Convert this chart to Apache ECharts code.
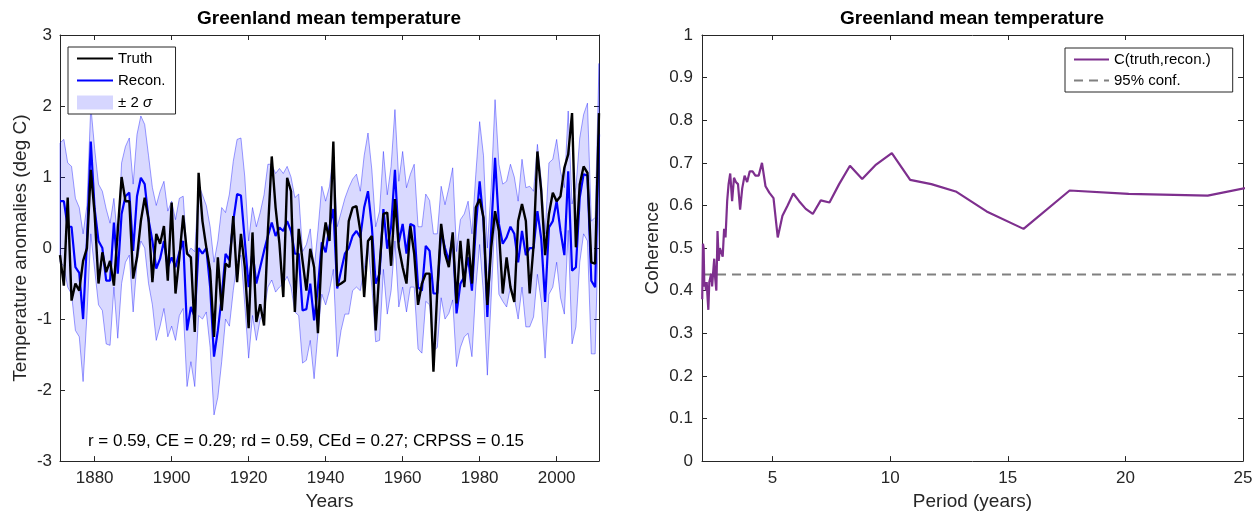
<!DOCTYPE html>
<html>
<head>
<meta charset="utf-8">
<title>Greenland mean temperature</title>
<script src="https://cdn.jsdelivr.net/npm/echarts@6/dist/echarts.min.js"></script>
<style>
  html, body { margin: 0; padding: 0; background: #fff; }
  #chart { width: 1260px; height: 516px; }
</style>
</head>
<body>
<div id="chart"></div>
<script>
// annual values, one per year starting at firstYear (1871 .. 2011)
var firstYear = 1871;

var truth = [
  -0.10, -0.53, 0.71, -0.74, -0.50, -0.60, -0.18, 0.00, 1.10, 0.48,
  -0.50, -0.06, -0.34, -0.18, -0.53, 0.24, 1.00, 0.66, 0.66, -0.43,
  -0.13, 0.38, 0.71, 0.40, -0.48, 0.20, 0.06, 0.31, -0.46, 0.64,
  -0.64, -0.13, 0.46, -0.08, -0.13, -1.18, 1.06, 0.38, 0.01, -0.32,
  -1.25, -0.13, -0.88, -0.22, -0.27, 0.45, -0.48, 0.20, -0.27, -1.13,
  0.22, -1.04, -0.79, -1.09, 0.24, 1.29, 0.57, 0.06, -0.69, 0.99,
  0.80, -0.90, 0.27, -0.18, -0.60, -0.01, -0.27, -1.20, -0.04, 0.36,
  0.10, 1.50, -0.53, -0.50, -0.46, 0.38, 0.57, 0.59, 0.24, -0.69,
  0.10, 0.17, -1.16, -0.27, 0.48, 0.50, -0.25, 0.69, 0.01, -0.27,
  -0.50, 0.31, -0.08, -0.80, -0.50, -0.36, -0.36, -1.74, -0.60, 0.34,
  -0.08, -0.27, 0.22, -0.78, 0.10, -0.55, 0.13, -0.50, 0.57, 0.69,
  0.43, -0.80, 0.01, 0.52, 0.24, -0.64, -0.13, -0.55, -0.76, 0.38,
  0.62, 0.38, -0.64, 0.03, 1.36, 0.80, -0.10, 0.48, 0.78, 0.66,
  0.73, 1.13, 1.32, 1.90, 0.01, 0.90, 1.15, 1.06, -0.20, -0.22,
  1.90
];

var recon = [
  0.66, 0.66, 0.30, 0.30, -0.27, -0.35, -1.00, 0.10, 1.50, 0.55,
  0.10, 0.00, -0.46, -0.46, 0.36, -0.36, 0.48, 0.73, 0.78, -0.04,
  0.73, 0.99, 0.90, 0.40, 0.10, -0.29, -0.15, 0.10, -0.27, -0.13,
  -0.27, -0.06, 0.10, -1.16, -0.83, -0.97, 0.00, -0.08, 0.00, -0.55,
  -1.53, -1.16, -0.69, -0.08, -0.17, 0.38, 0.76, 0.74, 0.10, -0.55,
  -0.05, -0.50, -0.27, -0.04, 0.17, 0.36, 0.17, 0.29, 0.24, 0.38,
  0.24, -0.08, -0.08, -0.88, -0.86, -0.50, -1.02, -0.55, 0.08, -0.06,
  0.30, 0.55, -0.57, -0.32, -0.08, 0.00, 0.17, 0.24, 0.15, 0.57,
  0.80, 0.30, -0.50, -0.36, 0.55, -0.01, 0.30, 1.10, 0.08, 0.34,
  -0.08, 0.34, 0.31, -0.55, -0.60, 0.03, -0.04, -0.64, -0.64, 0.24,
  0.00, -0.18, 0.17, -0.92, -0.50, -0.41, -0.13, -0.60, 0.29, 0.94,
  0.38, -0.97, 0.24, 1.27, 0.34, 0.06, 0.15, 0.30, 0.20, -0.20,
  0.24, -0.10, 0.00, 0.00, 0.52, 0.13, -0.76, 0.29, 0.38, 0.66,
  0.24, -0.10, 1.08, -0.32, -0.27, 0.71, 1.04, 1.02, -0.46, -0.55,
  1.60
];

// edges of the +-2 sigma envelope
var bandUpper = [
  1.48, 1.53, 1.20, 1.15, 0.70, 0.57, 0.20, 0.60, 2.00, 1.40,
  0.90, 0.80, 0.55, 0.35, 0.70, 0.10, 1.20, 1.43, 1.55, 0.90,
  1.60, 1.86, 1.74, 1.30, 0.85, 0.60, 0.80, 0.94, 0.52, 0.66,
  0.40, 0.70, 0.73, -0.10, 0.00, -0.05, 0.90, 0.75, 0.60, 0.30,
  -0.20, 0.10, 0.57, 0.50, 0.76, 1.22, 1.53, 1.55, 1.00, 0.10,
  0.57, 0.30, 0.50, 0.75, 1.18, 1.18, 1.05, 1.12, 1.05, 1.15,
  1.00, 0.71, 0.76, -0.05, 0.05, 0.27, -0.30, 0.25, 0.87, 0.66,
  0.87, 1.35, 0.30, 0.50, 0.70, 0.85, 0.97, 1.04, 0.80, 1.30,
  1.62, 1.10, 0.30, 0.52, 1.36, 0.75, 1.15, 1.95, 0.94, 1.36,
  0.85, 1.04, 1.18, 0.30, 0.30, 0.76, 0.67, 0.20, 0.20, 0.87,
  0.61, 0.85, 1.13, -0.05, 0.40, 0.48, 0.66, 0.20, 1.04, 1.78,
  1.30, 0.00, 0.85, 2.09, 1.18, 0.90, 0.94, 1.18, 1.00, 0.66,
  1.25, 0.85, 0.87, 0.80, 1.46, 0.95, 0.20, 1.20, 1.25, 1.53,
  1.08, 0.85, 1.93, 0.62, 0.85, 1.55, 1.88, 2.04, 0.38, 0.43,
  2.60
];

var bandLower = [
  -0.20, -0.25, -0.55, -0.65, -1.16, -1.25, -1.88, -0.95, 0.20, -0.30,
  -0.80, -0.88, -1.35, -1.37, -0.55, -1.27, -0.50, -0.20, -0.10, -0.90,
  -0.20, 0.10, 0.00, -0.50, -0.80, -1.30, -1.10, -0.85, -1.25, -1.10,
  -1.30, -0.95, -0.85, -1.95, -1.60, -1.95, -0.95, -1.00, -0.90, -1.40,
  -2.35, -2.10, -1.60, -1.00, -1.10, -0.60, -0.20, -0.10, -0.80, -1.55,
  -0.95, -1.30, -1.00, -0.90, -0.55, -0.45, -0.62, -0.55, -0.50, -0.40,
  -0.55, -0.90, -0.95, -1.62, -1.58, -1.30, -1.84, -1.20, -0.65, -0.80,
  -0.60, -0.30, -1.53, -1.16, -0.93, -0.93, -0.60, -0.55, -0.60, -0.30,
  0.05, -0.55, -1.32, -1.30, -0.30, -0.93, -0.60, 0.10, -0.83, -0.55,
  -0.90, -0.55, -0.55, -1.42, -1.48, -0.75, -0.80, -1.45, -1.40, -0.70,
  -1.00, -0.92, -0.73, -1.67, -1.40, -1.25, -1.20, -1.53, -0.55, 0.05,
  -0.65, -1.79, -0.70, 0.45, -0.65, -0.75, -0.83, -0.55, -0.70, -1.00,
  -0.55, -1.11, -1.11, -0.97, -0.37, -0.75, -1.55, -0.65, -0.55, -0.20,
  -0.70, -0.93, 0.25, -1.35, -1.11, -0.20, 0.20, 0.10, -1.49, -1.49,
  0.60
];

// coherence between truth and reconstruction, by period (years)
var periods = [
  2.01, 2.04, 2.07, 2.10, 2.14, 2.17, 2.20, 2.24, 2.27, 2.31,
  2.35, 2.39, 2.43, 2.47, 2.52, 2.56, 2.61, 2.66, 2.71, 2.76,
  2.82, 2.88, 2.94, 3.00, 3.07, 3.13, 3.20, 3.28, 3.36, 3.44,
  3.53, 3.62, 3.71, 3.81, 3.92, 4.03, 4.15, 4.27, 4.41, 4.55,
  4.70, 4.86, 5.04, 5.22, 5.42, 5.64, 5.88, 6.13, 6.41, 6.71,
  7.05, 7.42, 7.83, 8.29, 8.81, 9.40, 10.07, 10.85, 11.75, 12.82,
  14.10, 15.67, 17.63, 20.14, 23.50, 28.20
];
var coherence = [
  0.38, 0.51, 0.50, 0.41, 0.42, 0.40, 0.42, 0.38, 0.355, 0.42,
  0.43, 0.44, 0.41, 0.44, 0.475, 0.43, 0.40, 0.54, 0.47, 0.50,
  0.49, 0.48, 0.545, 0.525, 0.61, 0.65, 0.675, 0.61, 0.665, 0.655,
  0.65, 0.59, 0.64, 0.67, 0.655, 0.68, 0.68, 0.67, 0.67, 0.70,
  0.645, 0.63, 0.617, 0.525, 0.576, 0.60, 0.628, 0.61, 0.592, 0.58,
  0.612, 0.607, 0.65, 0.693, 0.662, 0.696, 0.723, 0.66, 0.65, 0.632,
  0.586, 0.545, 0.635, 0.627, 0.623, 0.676
];
var confLevel = 0.438;

var yearTicks = [1880, 1900, 1920, 1940, 1960, 1980, 2000];
var periodTicks = [5, 10, 15, 20, 25];

var font = 'Liberation Sans, Arial, Helvetica, sans-serif';
var ink = '#262626';

function pairs(values) {
  return values.map(function (v, i) { return [firstYear + i, v]; });
}

function frameAxis(grid, pos, min, max, extra) {
  var ax = {
    gridIndex: grid,
    type: 'value',
    position: pos,
    min: min,
    max: max,
    axisLine: { show: true, onZero: false, lineStyle: { color: ink, width: 1 } },
    axisTick: { show: true, inside: true, length: 5, lineStyle: { color: ink } },
    axisLabel: { show: false },
    splitLine: { show: false }
  };
  for (var k in extra) ax[k] = extra[k];
  return ax;
}

var nameStyle = { color: ink, fontSize: 19, fontFamily: font };
var plain = function (v) { return String(v); };

var chart = echarts.init(document.getElementById('chart'), null, { renderer: 'canvas' });

chart.setOption({
  animation: false,
  backgroundColor: '#fff',
  textStyle: { fontFamily: font },
  title: [
    { text: 'Greenland mean temperature', left: 329, top: 9, textAlign: 'center', padding: 0,
      textStyle: { fontSize: 19, fontWeight: 'bold', color: '#000', fontFamily: font } },
    { text: 'Greenland mean temperature', left: 972, top: 9, textAlign: 'center', padding: 0,
      textStyle: { fontSize: 19, fontWeight: 'bold', color: '#000', fontFamily: font } }
  ],
  grid: [
    { left: 60, top: 35, width: 539, height: 428 },
    { left: 702, top: 35, width: 541, height: 428 }
  ],
  legend: [
    {
      left: 68, top: 47, orient: 'vertical',
      padding: [4, 10, 4, 8], itemGap: 7, itemWidth: 36, itemHeight: 14,
      borderColor: ink, borderWidth: 1, backgroundColor: '#fff',
      itemStyle: { opacity: 0 },
      textStyle: { fontSize: 15, color: '#000', fontFamily: font, rich: { i: { fontStyle: 'italic', fontSize: 15, fontFamily: font } } },
      formatter: function (name) { return name === '± 2σ' ? '± 2 {i|σ}' : name; },
      data: [
        { name: 'Truth' },
        { name: 'Recon.' },
        { name: '± 2σ', icon: 'rect', itemStyle: { color: 'rgba(0,0,255,0.16)', opacity: 1, borderWidth: 0 } }
      ],
      selectedMode: false
    },
    {
      left: 1065, top: 48, orient: 'vertical',
      padding: [4, 22, 4, 8], itemGap: 6, itemWidth: 35, itemHeight: 14,
      borderColor: ink, borderWidth: 1, backgroundColor: '#fff',
      itemStyle: { opacity: 0 },
      textStyle: { fontSize: 15, color: '#000', fontFamily: font },
      data: ['C(truth,recon.)', '95% conf.'],
      selectedMode: false
    }
  ],
  xAxis: [
    frameAxis(0, 'bottom', 1871, 2011, {
      axisTick: { show: true, inside: true, length: 5, customValues: yearTicks, lineStyle: { color: ink } },
      axisLabel: { show: true, customValues: yearTicks, margin: 9, color: ink, fontSize: 17, fontFamily: font, formatter: plain },
      name: 'Years', nameLocation: 'middle', nameGap: 29, nameTextStyle: nameStyle
    }),
    frameAxis(0, 'top', 1871, 2011, {
      axisTick: { show: true, inside: true, length: 5, customValues: yearTicks, lineStyle: { color: ink } }
    }),
    frameAxis(1, 'bottom', 2, 25, {
      axisTick: { show: true, inside: true, length: 5, customValues: periodTicks, lineStyle: { color: ink } },
      axisLabel: { show: true, customValues: periodTicks, margin: 9, color: ink, fontSize: 17, fontFamily: font, formatter: plain },
      name: 'Period (years)', nameLocation: 'middle', nameGap: 29, nameTextStyle: nameStyle
    }),
    frameAxis(1, 'top', 2, 25, {
      axisTick: { show: true, inside: true, length: 5, customValues: periodTicks, lineStyle: { color: ink } }
    })
  ],
  yAxis: [
    frameAxis(0, 'left', -3, 3, {
      interval: 1,
      axisLabel: { show: true, margin: 8, color: ink, fontSize: 17, fontFamily: font, formatter: plain },
      name: 'Temperature anomalies (deg C)', nameLocation: 'middle', nameGap: 30, nameTextStyle: nameStyle
    }),
    frameAxis(0, 'right', -3, 3, { interval: 1 }),
    frameAxis(1, 'left', 0, 1, {
      interval: 0.1,
      axisLabel: { show: true, margin: 9, color: ink, fontSize: 17, fontFamily: font,
        formatter: function (v) { return String(+v.toFixed(1)); } },
      name: 'Coherence', nameLocation: 'middle', nameGap: 40, nameTextStyle: nameStyle
    }),
    frameAxis(1, 'right', 0, 1, { interval: 0.1 })
  ],
  series: [
    {
      name: '± 2σ',
      type: 'custom',
      xAxisIndex: 0, yAxisIndex: 0,
      data: [[firstYear, 0]],
      itemStyle: { color: 'rgba(0,0,255,0.16)' },
      silent: true,
      z: 1,
      renderItem: function (params, api) {
        var pts = [];
        for (var i = 0; i < bandUpper.length; i++) pts.push(api.coord([firstYear + i, bandUpper[i]]));
        for (var j = bandLower.length - 1; j >= 0; j--) pts.push(api.coord([firstYear + j, bandLower[j]]));
        return {
          type: 'polygon',
          shape: { points: pts },
          style: { fill: 'rgba(0,0,255,0.15)', stroke: 'rgba(0,0,255,0.38)', lineWidth: 1 }
        };
      }
    },
    {
      name: 'Recon.',
      type: 'line',
      xAxisIndex: 0, yAxisIndex: 0,
      data: pairs(recon),
      symbol: 'none',
      color: '#0000ff',
      lineStyle: { color: '#0000ff', width: 2.2 },
      z: 3
    },
    {
      name: 'Truth',
      type: 'line',
      xAxisIndex: 0, yAxisIndex: 0,
      data: pairs(truth),
      symbol: 'none',
      color: '#000000',
      lineStyle: { color: '#000000', width: 2.4 },
      z: 4
    },
    {
      name: 'C(truth,recon.)',
      type: 'line',
      xAxisIndex: 2, yAxisIndex: 2,
      data: periods.map(function (p, i) { return [p, coherence[i]]; }),
      symbol: 'none',
      color: '#7e2f8e',
      lineStyle: { color: '#7e2f8e', width: 2.2 },
      clip: true,
      z: 4
    },
    {
      name: '95% conf.',
      type: 'line',
      xAxisIndex: 2, yAxisIndex: 2,
      data: [[2, confLevel], [25, confLevel]],
      symbol: 'none',
      color: '#808080',
      lineStyle: { color: '#808080', width: 2, type: [9, 6] },
      z: 3
    }
  ],
  graphic: [
    {
      type: 'text',
      x: 306, y: 441,
      style: {
        text: 'r = 0.59, CE = 0.29; rd = 0.59, CEd = 0.27; CRPSS = 0.15',
        fill: '#000', fontSize: 17, fontFamily: font,
        align: 'center', verticalAlign: 'middle'
      },
      z: 10
    }
  ]
});
</script>
</body>
</html>
